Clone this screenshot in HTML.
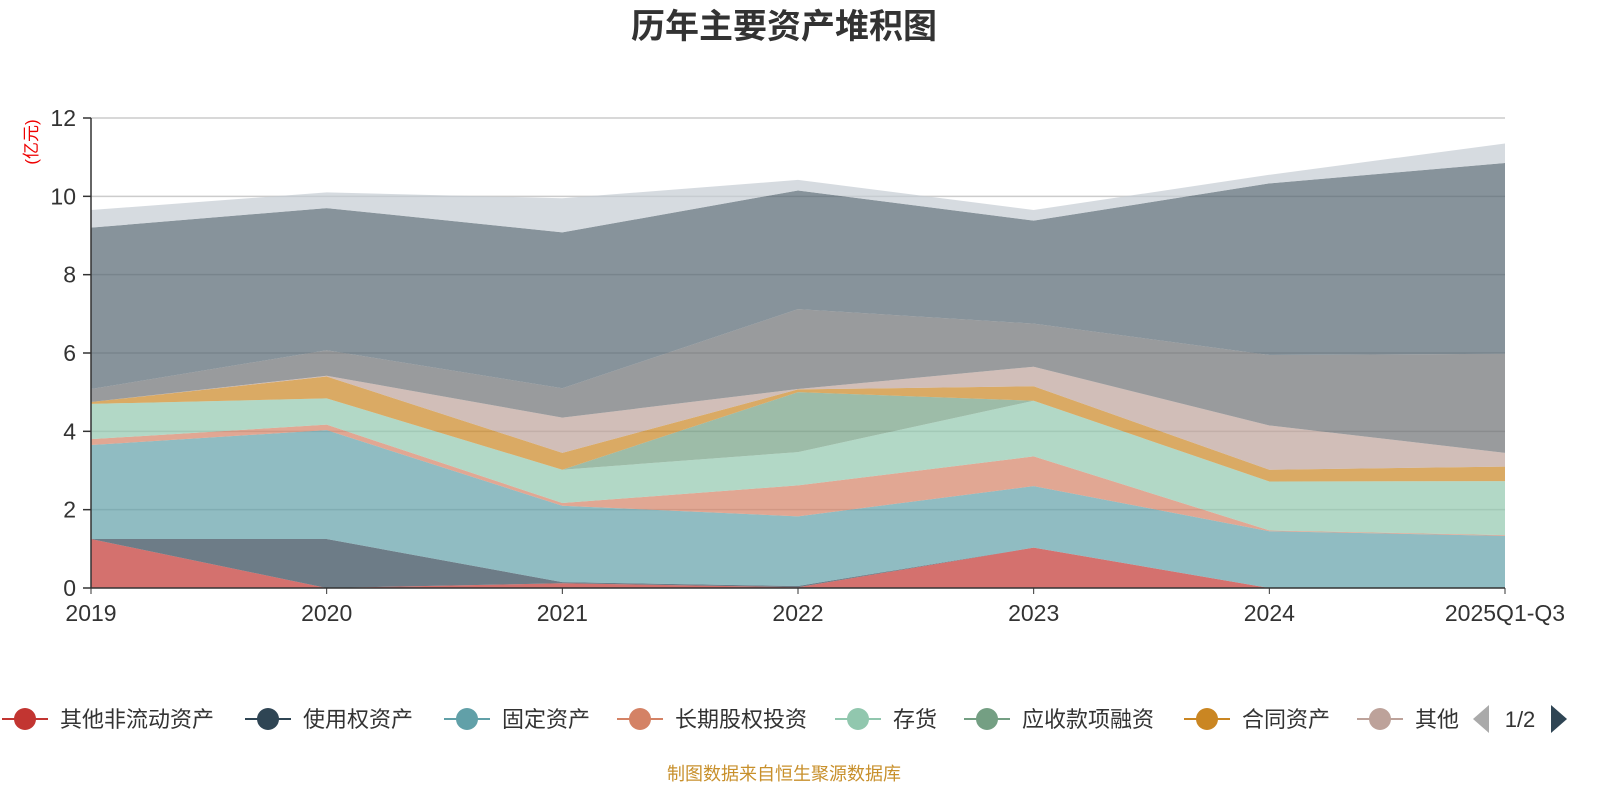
<!DOCTYPE html>
<html><head><meta charset="utf-8"><style>
body{margin:0;width:1600px;height:800px;background:#fff;overflow:hidden;font-family:"Liberation Sans","Noto Sans CJK SC",sans-serif;}
svg{position:absolute;left:0;top:0}
</style></head><body>
<svg id="chart" width="1600" height="800">
<text x="784" y="38" text-anchor="middle" font-size="34" font-weight="bold" fill="#333" font-family="Liberation Sans, Noto Sans CJK SC, sans-serif">历年主要资产堆积图</text>
<text transform="translate(37,142) rotate(-90)" text-anchor="middle" font-size="17" fill="#e00" font-family="Liberation Sans, Noto Sans CJK SC, sans-serif">(亿元)</text>
<g id="grid"></g><g id="areas"></g><g id="axes"></g><g id="legend"></g>
<text x="784" y="780" text-anchor="middle" font-size="18" fill="#c8902c" font-family="Liberation Sans, Noto Sans CJK SC, sans-serif">制图数据来自恒生聚源数据库</text>
</svg>
<script>
const categories=["2019","2020","2021","2022","2023","2024","2025Q1-Q3"];
const seriesNames=["其他非流动资产","使用权资产","固定资产","长期股权投资","存货","应收款项融资","合同资产","其他","其他2","其他3","其他4"];
const s1=[1.25,0,0.12,0.02,1.03,0,0];
const s2=[0,1.25,0.03,0.03,0,0,0];
const s3=[2.4,2.78,1.95,1.78,1.57,1.45,1.33];
const s4=[0.15,0.14,0.07,0.79,0.76,0.02,0.02];
const s5=[0.9,0.67,0.85,0.85,1.42,1.25,1.38];
const s6=[0,0,0,1.53,0,0,0];
const s7=[0.05,0.56,0.43,0.07,0.37,0.3,0.37];
const s8=[0,0.02,0.9,0.01,0.5,1.13,0.35];
const s9=[0.33,0.65,0.75,2.04,1.1,1.8,2.53];
const s10=[4.12,3.63,3.98,3.03,2.63,4.38,4.87];
const s11=[0.45,0.4,0.87,0.27,0.27,0.22,0.5];
const yTicks=[0,2,4,6,8,10,12];
const series=[s1,s2,s3,s4,s5,s6,s7,s8,s9,s10,s11];
const colors=["#c23531","#2f4554","#61a0a8","#d48265","#91c7ae","#749f83","#ca8622","#bda29a","#6e7074","#546570","#c4ccd3"];
const X0=91,X1=1505,Y0=588,Y1=118;
const xs=i=>X0+i*(X1-X0)/(categories.length-1);
const ys=v=>Y0-v*(Y0-Y1)/12;
const NS="http://www.w3.org/2000/svg";
function mk(t,a,p){const e=document.createElementNS(NS,t);for(const k in a)e.setAttribute(k,a[k]);p.appendChild(e);return e;}
const grid=document.getElementById('grid'),areas=document.getElementById('areas'),axes=document.getElementById('axes'),legend=document.getElementById('legend');
yTicks.forEach(v=>{
 if(v>0){const l=mk('line',{x1:X0,x2:X1,y1:ys(v),y2:ys(v),stroke:'#ccc','stroke-width':1.5},grid);
 
 }
 const tk=mk('line',{x1:X0-8,x2:X0,y1:ys(v),y2:ys(v),stroke:'#333','stroke-width':1.5},axes);
 
 
 const t=mk('text',{x:X0-15,y:ys(v)+8,'text-anchor':'end','font-size':23,fill:'#333'},axes);t.textContent=v;
 
 
});
let cum=categories.map(()=>0);
series.forEach((s,k)=>{
 const lo=cum.slice();cum=cum.map((c,i)=>c+s[i]);
 let d='M'+cum.map((v,i)=>xs(i)+','+ys(v)).join('L');
 for(let i=lo.length-1;i>=0;i--)d+='L'+xs(i)+','+ys(lo[i]);
 const p=mk('path',{d:d+'Z',fill:colors[k],'fill-opacity':0.7,stroke:'none'},areas);
 
 
});
const ax=mk('line',{x1:X0,x2:X0,y1:Y1,y2:Y0,stroke:'#333','stroke-width':1.5},axes);


const bx=mk('line',{x1:X0,x2:X1,y1:Y0,y2:Y0,stroke:'#333','stroke-width':1.5},axes);


categories.forEach((c,i)=>{
 const tk=mk('line',{x1:xs(i),x2:xs(i),y1:Y0,y2:Y0+6,stroke:'#333'},axes);
 
 
 const t=mk('text',{x:xs(i),y:621,'text-anchor':'middle','font-size':23,fill:'#333'},axes);t.textContent=c;
 
 
});
const legC=[25,268,467,640,858,987,1207,1380];
legC.forEach((c,k)=>{
 const g=mk('g',{},legend);
 
 
 mk('line',{x1:c-23,x2:c+23,y1:719,y2:719,stroke:colors[k],'stroke-width':2},g);
 mk('circle',{cx:c,cy:719,r:11,fill:colors[k]},g);
 const t=mk('text',{x:c+35,y:727,'font-size':22,fill:'#333'},g);
 t.textContent=k===7?'其他':seriesNames[k];
});
const prev=mk('polygon',{points:'1473,719 1489,705 1489,733',fill:'#aaa'},legend);


const pg=mk('text',{x:1520,y:727,'text-anchor':'middle','font-size':22,fill:'#333'},legend);pg.textContent='1/2';


const nxt=mk('polygon',{points:'1551,705 1567,719 1551,733',fill:'#2f4554'},legend);


</script>
</body></html>
